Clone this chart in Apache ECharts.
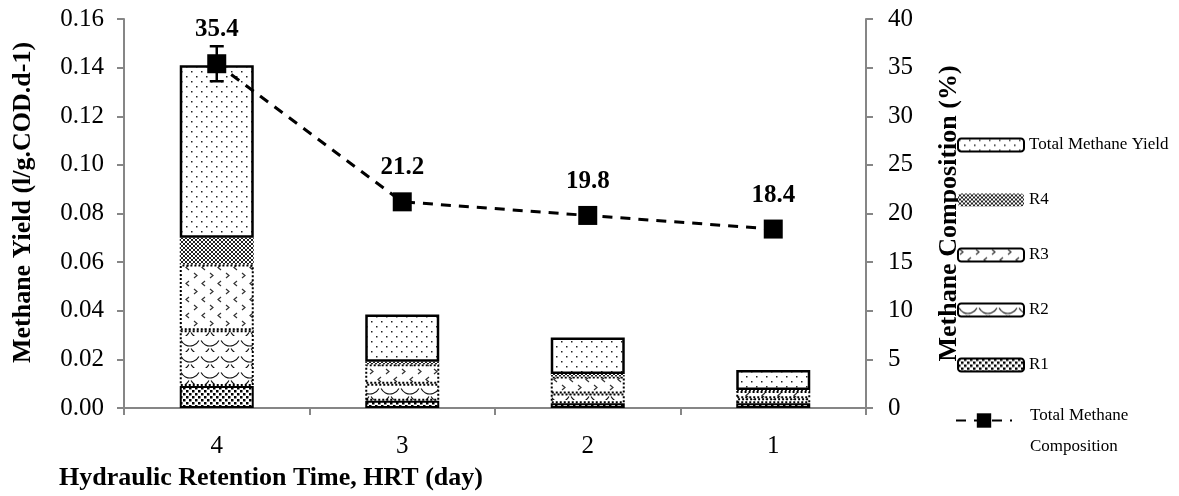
<!DOCTYPE html>
<html><head><meta charset="utf-8">
<script src="https://cdn.jsdelivr.net/npm/echarts@6/dist/echarts.min.js"></script>
<style>html,body{margin:0;padding:0;background:#fff}#c{width:1179px;height:496px}</style>
</head><body><div id="c"></div>
<script>
const categories = ['4', '3', '2', '1'];
const r1 = [0.009, 0.003, 0.002, 0.002];
const r2 = [0.023, 0.007, 0.004, 0.002];
const r3 = [0.027, 0.008, 0.007, 0.003];
const r4 = [0.011, 0.001, 0.001, 0.0004];
const totalYield = [0.071, 0.0195, 0.015, 0.0082];
const composition = [35.4, 21.2, 19.8, 18.4];
const compositionErr = [1.8, 0.4, 0.4, 0.3];
const leftTicks = [0, 0.16, 0.02];
const rightTicks = [0, 40, 5];

const FONT = "'Liberation Serif', 'Times New Roman', serif";

function pat(w, h, draw) {
  const c = document.createElement('canvas');
  c.width = w; c.height = h;
  const g = c.getContext('2d');
  g.fillStyle = '#fff'; g.fillRect(0, 0, w, h);
  draw(g);
  return { image: c, repeat: 'repeat' };
}
const pTotal = pat(10, 10, g => {
  g.fillStyle = '#222';
  g.fillRect(1, 1, 1.5, 1.5); g.fillRect(6, 6, 1.5, 1.5);
});
const pR4 = pat(4, 4, g => {
  g.strokeStyle = '#222'; g.lineWidth = 1;
  g.beginPath(); g.moveTo(0, 0); g.lineTo(4, 4); g.moveTo(4, 0); g.lineTo(0, 4); g.stroke();
});
const pR3 = pat(16, 16, g => {
  g.strokeStyle = '#333'; g.lineWidth = 1.2;
  g.beginPath(); g.moveTo(2, 1); g.lineTo(5, 3.5); g.lineTo(2, 6); g.stroke();
  g.beginPath(); g.moveTo(13, 9); g.lineTo(10, 11.5); g.lineTo(13, 14); g.stroke();
});
const pR2 = pat(20, 16, g => {
  g.strokeStyle = '#111'; g.lineWidth = 1.1;
  const arc = (x, y) => { g.beginPath(); g.arc(x, y, 10, 0.15 * Math.PI, 0.85 * Math.PI); g.stroke(); };
  arc(10, 0); arc(0, 8); arc(20, 8); arc(10, 16);
});
const pR1 = pat(6, 6, g => {
  g.fillStyle = '#000';
  g.fillRect(0, 0, 2.5, 2.5); g.fillRect(3, 3, 2.5, 2.5);
});

const chart = echarts.init(document.getElementById('c'));
const barBase = { type: 'bar', stack: 'y', barWidth: 74, yAxisIndex: 0 };
const axisCommon = {
  axisLine: { show: true, lineStyle: { color: '#868686', width: 2 } },
  axisTick: { show: true, length: 7, lineStyle: { color: '#868686', width: 2 } },
  splitLine: { show: false }
};
chart.setOption({
  animation: false,
  backgroundColor: '#fff',
  grid: { left: 124, right: 313, top: 19, bottom: 88 },
  legend: [{
    orient: 'vertical', left: 952, top: 130, itemWidth: 66, itemHeight: 13, itemGap: 35,
    textStyle: { fontFamily: FONT, fontSize: 17, color: '#000', lineHeight: 20 },
    data: ['Total Methane Yield', 'R4', 'R3', 'R2', 'R1']
  }, {
    orient: 'vertical', left: 950, top: 376, itemWidth: 56, itemHeight: 18,
    textStyle: { fontFamily: FONT, fontSize: 17, color: '#000', padding: [0, 0, 0, 13],
      rich: { s: { lineHeight: 21, fontSize: 17, fontFamily: FONT }, a: { lineHeight: 31, fontSize: 17, fontFamily: FONT, color: '#000' } } },
    formatter: () => '{s| }\n{a|Total Methane}\n{a|Composition}',
    data: ['Total Methane Composition']
  }],
  graphic: [{
    type: 'text', left: 59, top: 465,
    style: { text: 'Hydraulic Retention Time, HRT (day)', font: 'bold 26px ' + FONT, fill: '#000' }
  }],
  xAxis: {
    type: 'category', data: categories,
    axisLine: { lineStyle: { color: '#868686', width: 2 } },
    axisTick: { show: true, length: 7, lineStyle: { color: '#868686', width: 2 } },
    axisLabel: { fontFamily: FONT, fontSize: 25, color: '#000', margin: 26 }
  },
  yAxis: [Object.assign({}, axisCommon, {
    type: 'value', min: leftTicks[0], max: leftTicks[1], interval: leftTicks[2],
    name: 'Methane Yield (l/g.COD.d-1)', nameLocation: 'middle', nameGap: 88, nameRotate: 90,
    nameTextStyle: { fontFamily: FONT, fontSize: 26, fontWeight: 'bold', color: '#000', padding: [0, 0, 0, 22] },
    axisLabel: { fontFamily: FONT, fontSize: 25, color: '#000', margin: 20, formatter: v => v.toFixed(2) }
  }), Object.assign({}, axisCommon, {
    type: 'value', min: rightTicks[0], max: rightTicks[1], interval: rightTicks[2], position: 'right',
    name: 'Methane Composition (%)', nameLocation: 'middle', nameGap: 70, nameRotate: 90,
    nameTextStyle: { fontFamily: FONT, fontSize: 26, fontWeight: 'bold', color: '#000' },
    axisLabel: { fontFamily: FONT, fontSize: 25, color: '#000', margin: 22 }
  })],
  series: [
    Object.assign({}, barBase, { name: 'R1', data: r1,
      itemStyle: { color: pR1, borderColor: '#000', borderWidth: 2 } }),
    Object.assign({}, barBase, { name: 'R2', data: r2,
      itemStyle: { color: pR2, borderColor: '#000', borderWidth: 2, borderType: 'dotted' } }),
    Object.assign({}, barBase, { name: 'R3', data: r3,
      itemStyle: { color: pR3, borderColor: '#000', borderWidth: 2, borderType: 'dotted' } }),
    Object.assign({}, barBase, { name: 'R4', data: r4,
      itemStyle: { color: pR4, borderWidth: 0 } }),
    Object.assign({}, barBase, { name: 'Total Methane Yield', data: totalYield,
      itemStyle: { color: pTotal, borderColor: '#000', borderWidth: 2.5 } }),
    {
      type: 'custom', name: 'err', yAxisIndex: 1, z: 5,
      data: composition.map((v, i) => [i, v - compositionErr[i], v + compositionErr[i]]),
      renderItem: (params, api) => {
        const lo = api.coord([api.value(0), api.value(1)]);
        const hi = api.coord([api.value(0), api.value(2)]);
        const w = 7;
        const st = { stroke: '#000', lineWidth: 2.5 };
        return { type: 'group', children: [
          { type: 'line', shape: { x1: lo[0], y1: lo[1], x2: hi[0], y2: hi[1] }, style: st },
          { type: 'line', shape: { x1: lo[0] - w, y1: lo[1], x2: lo[0] + w, y2: lo[1] }, style: st },
          { type: 'line', shape: { x1: hi[0] - w, y1: hi[1], x2: hi[0] + w, y2: hi[1] }, style: st }
        ]};
      }
    },
    {
      type: 'line', name: 'Total Methane Composition', yAxisIndex: 1, data: composition, z: 6,
      symbol: 'rect', symbolSize: 19,
      itemStyle: { color: '#000' },
      lineStyle: { color: '#000', width: 3, type: [10, 8] },
      label: { show: true, position: 'top', distance: 12, fontFamily: FONT, fontSize: 25,
        fontWeight: 'bold', color: '#000', formatter: p => p.value.toFixed(1) }
    }
  ]
});
</script></body></html>
